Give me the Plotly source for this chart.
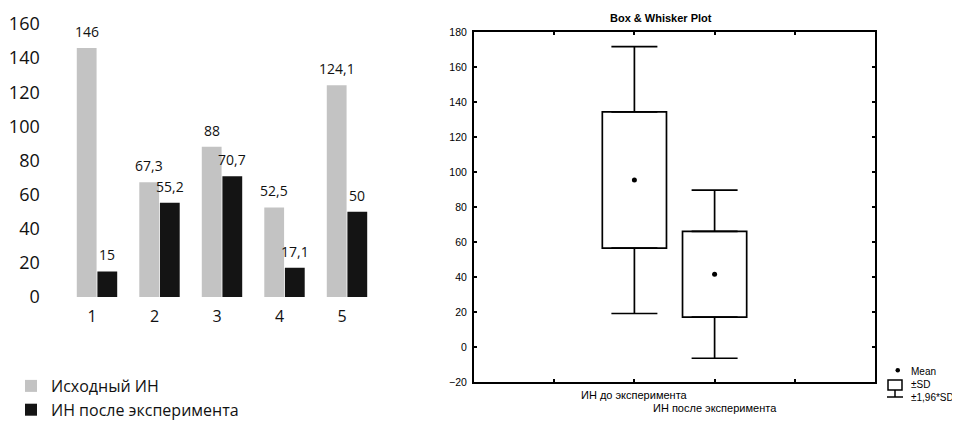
import plotly.graph_objects as go

# ---------------- data ----------------
categories = ["1", "2", "3", "4", "5"]
initial_values = [146, 67.3, 88, 52.5, 124.1]
after_values = [15, 55.2, 70.7, 17.1, 50]
series_names = ["Исходный ИН", "ИН после эксперимента"]

box_labels = ["ИН до эксперимента", "ИН после эксперимента"]
box_positions = [2, 3]
box_means = [95.4, 41.6]
box_sds = [38.9, 24.5]
sd_factor = 1.96

left_ticks = [0, 20, 40, 60, 80, 100, 120, 140, 160]
right_ticks = [-20, 0, 20, 40, 60, 80, 100, 120, 140, 160, 180]
right_legend_labels = ["Mean", "±SD", "±1,96*SD"]
right_title = "Box &amp; Whisker Plot"


def fmt(v):
    return f"{v:g}".replace(".", ",")


W, H = 960, 421
OFF = 8  # page body margin in the browser


def px(x):
    return (x - OFF) / W


def py(y):
    return 1 - (y - OFF) / H


LEFT_FONT = "Open Sans"
RIGHT_FONT = "Liberation Sans"
TXT = "#111111"

fig = go.Figure()

# ---------------- left: grouped bars ----------------
bar_cols = ["#c3c3c3", "#141414"]
for vals, name, col in [(initial_values, series_names[0], bar_cols[0]),
                        (after_values, series_names[1], bar_cols[1])]:
    fig.add_trace(go.Bar(
        x=categories, y=vals, name=name,
        marker=dict(color=col, line=dict(width=0)),
        cliponaxis=False, xaxis="x", yaxis="y",
    ))

annotations = []
# value labels above bars (category index + pixel shift to each bar of the group)
for k, vals in enumerate([initial_values, after_values]):
    shift = -10.3 if k == 0 else 10.3
    for ci, v in enumerate(vals):
        annotations.append(dict(
            x=ci, xref="x", y=v, yref="y", text=fmt(v), showarrow=False,
            xanchor="center", yanchor="bottom", xshift=shift, yshift=5,
            font=dict(family=LEFT_FONT, size=14, color=TXT),
        ))

# ---------------- right: box & whisker (mean, ±SD, ±1.96*SD) ----------------
box_low = [m - s for m, s in zip(box_means, box_sds)]
box_high = [m + s for m, s in zip(box_means, box_sds)]
whisk_ext = [(sd_factor - 1) * s for s in box_sds]

fig.add_trace(go.Bar(
    x=box_positions, base=box_low, y=[2 * s for s in box_sds],
    width=0.8, offset=-0.4,
    marker=dict(color="white", line=dict(color="black", width=1.7)),
    showlegend=False, xaxis="x2", yaxis="y2", hoverinfo="skip",
))
fig.add_trace(go.Scatter(
    x=box_positions, y=box_high, mode="markers",
    marker=dict(size=1, color="rgba(0,0,0,0)"),
    error_y=dict(type="data", symmetric=False, array=whisk_ext,
                 arrayminus=[0] * len(whisk_ext), width=23, thickness=1.7,
                 color="black"),
    showlegend=False, xaxis="x2", yaxis="y2",
))
fig.add_trace(go.Scatter(
    x=box_positions, y=box_low, mode="markers",
    marker=dict(size=1, color="rgba(0,0,0,0)"),
    error_y=dict(type="data", symmetric=False, array=[0] * len(whisk_ext),
                 arrayminus=whisk_ext, width=23, thickness=1.7,
                 color="black"),
    showlegend=False, xaxis="x2", yaxis="y2",
))
fig.add_trace(go.Scatter(
    x=box_positions, y=box_means, mode="markers",
    marker=dict(size=5, color="black", symbol="circle"),
    showlegend=False, xaxis="x2", yaxis="y2",
))

# staggered category labels
for i, (pos, lab) in enumerate(zip(box_positions, box_labels)):
    annotations.append(dict(
        x=pos, xref="x2", y=py(395 + 13 * i), yref="paper",
        text=lab, showarrow=False, xanchor="center", yanchor="middle",
        font=dict(family=RIGHT_FONT, size=11, color="black"),
    ))
# title
annotations.append(dict(
    x=px(661), xref="paper", y=py(18), yref="paper", text=right_title,
    showarrow=False, xanchor="center", yanchor="middle",
    font=dict(family=RIGHT_FONT, size=11, color="black", weight="bold"),
))
# right-hand key
for i, lab in enumerate(right_legend_labels):
    annotations.append(dict(
        x=px(909), xref="paper", y=py(371 + 13 * i), yref="paper", text=lab,
        showarrow=False, xanchor="left", yanchor="middle",
        font=dict(family=RIGHT_FONT, size=10, color="black"),
    ))

shapes = [
    dict(type="circle", xref="paper", yref="paper",
         x0=px(895.5), x1=px(900), y0=py(368), y1=py(372.5),
         fillcolor="black", line=dict(width=0)),
    dict(type="rect", xref="paper", yref="paper",
         x0=px(888), x1=px(902), y0=py(380), y1=py(390),
         fillcolor="white", line=dict(color="black", width=1.5)),
    dict(type="line", xref="paper", yref="paper",
         x0=px(895), x1=px(895), y0=py(390), y1=py(397),
         line=dict(color="black", width=1.5)),
    dict(type="line", xref="paper", yref="paper",
         x0=px(887), x1=px(903), y0=py(397), y1=py(397),
         line=dict(color="black", width=1.5)),
]

fig.update_layout(
    template="none",
    width=W, height=H,
    margin=dict(l=0, r=0, t=0, b=0, pad=0, autoexpand=False),
    paper_bgcolor="white", plot_bgcolor="white",
    barmode="group", bargap=0.34, bargroupgap=0.04,
    showlegend=True,
    legend=dict(x=px(11), y=py(369), xanchor="left", yanchor="top",
                font=dict(family=LEFT_FONT, size=16, color=TXT),
                bgcolor="rgba(0,0,0,0)", traceorder="normal",
                itemclick=False),
    xaxis=dict(domain=[px(65.75), px(378.25)], type="category",
               range=[-0.5, 4.5], anchor="y", showline=False, showgrid=False,
               zeroline=False, ticks="", automargin=False,
               tickfont=dict(family=LEFT_FONT, size=16, color=TXT),
               ticklabelshift=-5, ticklabelstandoff=8),
    yaxis=dict(domain=[py(297), py(24)], range=[0, 160], anchor="x",
               tickvals=left_ticks, showline=False, showgrid=False,
               zeroline=False, ticks="", automargin=False,
               tickfont=dict(family=LEFT_FONT, size=18, color=TXT),
               ticklabelstandoff=25),
    xaxis2=dict(domain=[px(474), px(875)], range=[0, 5], anchor="y2",
                tickvals=[1, 2, 3, 4], showticklabels=False, ticks="inside",
                ticklen=3, tickwidth=1.5, tickcolor="black", automargin=False,
                showline=True, linewidth=2, linecolor="black", mirror="ticks",
                showgrid=False, zeroline=False),
    yaxis2=dict(domain=[py(382), py(32)], range=[-20, 180], anchor="x2",
                tickvals=right_ticks, ticks="inside", ticklen=3, tickwidth=1.5,
                tickcolor="black", showline=True, linewidth=2,
                linecolor="black", mirror="ticks", showgrid=False,
                zeroline=False, automargin=False,
                tickfont=dict(family=RIGHT_FONT, size=10.5, color="black"),
                ticklabelstandoff=3),
    annotations=annotations,
    shapes=shapes,
)

fig.write_html("out.html")
